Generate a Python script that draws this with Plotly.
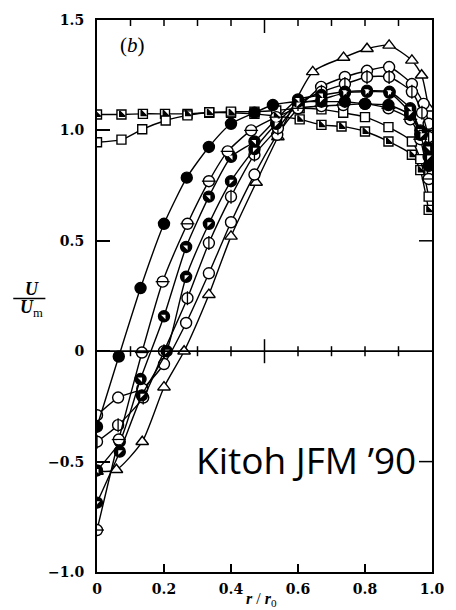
import plotly.graph_objects as go

# ---------------- data (r/r0, U/Um) ----------------
r_sq_half = [0, 0.073, 0.137, 0.203, 0.27, 0.335, 0.40, 0.47, 0.535, 0.605, 0.67, 0.73, 0.80, 0.87, 0.94, 0.965, 0.99]
u_sq_half = [1.072, 1.072, 1.075, 1.075, 1.075, 1.08, 1.08, 1.075, 1.065, 1.05, 1.025, 1.018, 0.995, 0.95, 0.89, 0.82, 0.64]

r_sq_open = [0, 0.073, 0.135, 0.205, 0.27, 0.335, 0.40, 0.47, 0.535, 0.605, 0.67, 0.735, 0.80, 0.87, 0.94, 0.965, 0.99]
u_sq_open = [0.946, 0.958, 1.005, 1.045, 1.068, 1.082, 1.085, 1.085, 1.09, 1.10, 1.095, 1.08, 1.06, 1.015, 0.95, 0.87, 0.70]

r_filled = [0, 0.065, 0.13, 0.2, 0.268, 0.334, 0.40, 0.47, 0.525, 0.6, 0.67, 0.74, 0.80, 0.87, 0.935, 0.965, 0.99]
u_filled = [-0.342, -0.024, 0.286, 0.577, 0.786, 0.925, 1.03, 1.08, 1.115, 1.13, 1.13, 1.13, 1.12, 1.115, 1.07, 0.98, 0.84]

r_hbar = [0, 0.065, 0.134, 0.196, 0.27, 0.334, 0.39, 0.46, 0.535, 0.6, 0.67, 0.735, 0.80, 0.87, 0.935, 0.965, 0.99]
u_hbar = [-0.81, -0.40, -0.006, 0.315, 0.577, 0.77, 0.905, 1.0, 1.06, 1.10, 1.11, 1.115, 1.12, 1.10, 1.05, 0.96, 0.78]

r_halfA = [0, 0.068, 0.13, 0.2, 0.266, 0.334, 0.40, 0.47, 0.535, 0.6, 0.67, 0.74, 0.806, 0.873, 0.935, 0.965, 0.99]
u_halfA = [-0.54, -0.41, -0.126, 0.158, 0.472, 0.70, 0.88, 0.95, 1.05, 1.14, 1.16, 1.175, 1.18, 1.175, 1.10, 1.0, 0.92]

r_halfB = [0, 0.068, 0.134, 0.208, 0.266, 0.334, 0.40, 0.47, 0.535, 0.6, 0.67, 0.74, 0.806, 0.873, 0.935, 0.97, 0.99]
u_halfB = [-0.686, -0.455, -0.20, 0.0, 0.337, 0.577, 0.77, 0.915, 1.03, 1.12, 1.14, 1.17, 1.175, 1.17, 1.08, 0.98, 0.88]

r_vbar = [0, 0.063, 0.138, 0.2, 0.27, 0.334, 0.40, 0.47, 0.54, 0.6, 0.67, 0.74, 0.806, 0.872, 0.94, 0.97, 0.99]
u_vbar = [-0.41, -0.335, -0.21, 0.0, 0.24, 0.49, 0.70, 0.89, 1.01, 1.12, 1.175, 1.21, 1.242, 1.242, 1.175, 1.08, 0.97]

r_open = [0, 0.063, 0.135, 0.2, 0.266, 0.334, 0.40, 0.47, 0.538, 0.6, 0.669, 0.74, 0.806, 0.872, 0.94, 0.975, 0.99]
u_open = [-0.29, -0.21, -0.17, -0.058, 0.128, 0.353, 0.584, 0.80, 0.98, 1.10, 1.197, 1.242, 1.27, 1.287, 1.21, 1.12, 1.03]

r_tri = [0, 0.058, 0.135, 0.2, 0.26, 0.334, 0.40, 0.475, 0.54, 0.644, 0.736, 0.806, 0.872, 0.94, 0.969, 0.99]
u_tri = [-0.545, -0.537, -0.41, -0.163, 0.0, 0.256, 0.52, 0.764, 0.97, 1.265, 1.33, 1.37, 1.385, 1.317, 1.25, 1.10]

x_tickvals = [0, 0.2, 0.4, 0.6, 0.8, 1.0]
x_ticktext = ["0", "0.2", "0.4", "0.6", "0.8", "1.0"]
y_tickvals = [-1.0, -0.5, 0, 0.5, 1.0, 1.5]
y_ticktext = ["\u22121.0", "\u22120.5", "0", "0.5", "1.0", "1.5"]
minor_x = [0.1, 0.2, 0.3, 0.4, 0.5, 0.6, 0.7, 0.8, 0.9]

# ---------------- figure ----------------
W, H = 456, 610
ML, MR, MT, MB = 97, 15, 14, 38
fig = go.Figure()

LW = 1.4
MS = 10

def series(r, u, symbol, fill, size=MS):
    fig.add_trace(go.Scatter(
        x=r, y=u, mode="lines+markers",
        line=dict(color="black", width=LW, shape="spline", smoothing=0.6),
        marker=dict(symbol=symbol, size=size, color=fill,
                    line=dict(color="black", width=1.4)),
        showlegend=False, hoverinfo="skip"))

series(r_sq_half, u_sq_half, "square", "white", 9)
series(r_sq_open, u_sq_open, "square", "white", 9)
series(r_tri, u_tri, "triangle-up", "white", 11)
series(r_open, u_open, "circle", "white", 11)
series(r_vbar, u_vbar, "circle", "white", 11)
series(r_halfB, u_halfB, "circle", "black", 11)
series(r_halfA, u_halfA, "circle", "black", 11)
series(r_hbar, u_hbar, "circle", "white", 11)
series(r_filled, u_filled, "circle", "black", 11)

def overlay(r, u, symbol, size, color="black", width=1.3):
    fig.add_trace(go.Scatter(
        x=r, y=u, mode="markers",
        marker=dict(symbol=symbol, size=size, color=color,
                    line=dict(color="black", width=width)),
        showlegend=False, hoverinfo="skip"))

overlay(r_sq_half, u_sq_half, "triangle-sw", 6)
overlay(r_vbar, u_vbar, "line-ns", 10)
overlay(r_hbar, u_hbar, "line-ew", 10)
overlay(r_halfA, u_halfA, "triangle-ne", 5, color="white", width=0)
overlay(r_halfB, u_halfB, "triangle-nw", 5, color="white", width=0)

axis_font = dict(family="DejaVu Serif", size=14, color="black", weight="bold")

fig.update_layout(
    width=W, height=H, autosize=False,
    margin=dict(l=ML, r=MR, t=MT, b=MB, pad=0),
    paper_bgcolor="white", plot_bgcolor="white",
    xaxis=dict(range=[0, 1.0], showgrid=False, zeroline=False,
               showline=True, linecolor="black", linewidth=2, mirror=True,
               ticks="inside", ticklen=8, tickwidth=1.5, tickcolor="black",
               tickvals=x_tickvals, ticktext=x_ticktext, tickfont=axis_font,
               ticklabelstandoff=3),
    yaxis=dict(range=[-1.0, 1.5], showgrid=False, zeroline=False,
               showline=True, linecolor="black", linewidth=2, mirror=True,
               ticks="inside", ticklen=13, tickwidth=1.5, tickcolor="black",
               tickvals=y_tickvals, ticktext=y_ticktext, tickfont=axis_font,
               ticklabelstandoff=8),
)

shapes = []
# zero line
shapes.append(dict(type="line", xref="x", yref="y", x0=0, x1=1.0, y0=0, y1=0,
                   line=dict(color="black", width=1.8)))
for xv in minor_x:
    half = 12 if abs(xv - 0.5) < 1e-9 else 5
    shapes.append(dict(type="line", xref="x", yref="y", ysizemode="pixel", yanchor=0,
                       x0=xv, x1=xv, y0=-half, y1=half,
                       line=dict(color="black", width=1.5)))
    ln = 13 if abs(xv - 0.5) < 1e-9 else 6
    shapes.append(dict(type="line", xref="x", yref="y", ysizemode="pixel", yanchor=1.5,
                       x0=xv, x1=xv, y0=0, y1=-ln,
                       line=dict(color="black", width=1.5)))
for yv in [-0.5, 0.5, 1.0]:
    shapes.append(dict(type="line", xref="x", yref="y", xsizemode="pixel", xanchor=1.0,
                       x0=-13, x1=0, y0=yv, y1=yv,
                       line=dict(color="black", width=1.5)))

def px2paper_x(px):
    return (px - ML) / (W - ML - MR)

def px2paper_y(py):
    return (H - MB - py) / (H - MT - MB)

# fraction bar for U/Um
shapes.append(dict(type="line", xref="paper", yref="paper",
                   x0=px2paper_x(11), x1=px2paper_x(44),
                   y0=px2paper_y(295.5), y1=px2paper_y(295.5),
                   line=dict(color="black", width=1.6)))
fig.update_layout(shapes=shapes)

serif = "Liberation Serif"
ann = [
    dict(text="(<i>b</i>)", xref="x", yref="y", x=0.105, y=1.386, showarrow=False,
         font=dict(family=serif, size=21, color="black"), xanchor="center", yanchor="middle"),
    dict(text="Kitoh JFM \u201990", xref="x", yref="y", x=0.29, y=-0.49, showarrow=False,
         font=dict(family="Open Sans", size=37, color="black"), xanchor="left", yanchor="middle"),
    dict(text="<b><i>U</i></b>", xref="paper", yref="paper", x=px2paper_x(30), y=px2paper_y(286),
         showarrow=False, font=dict(family=serif, size=18, color="black"),
         xanchor="center", yanchor="middle"),
    dict(text="<b><i>U</i></b><sub>m</sub>", xref="paper", yref="paper", x=px2paper_x(30),
         y=px2paper_y(306), showarrow=False, font=dict(family=serif, size=18, color="black"),
         xanchor="center", yanchor="middle"),
    dict(text="<b><i>r</i></b> / <b><i>r</i></b><sub>0</sub>", xref="paper", yref="paper", x=px2paper_x(266),
         y=px2paper_y(600), showarrow=False, font=dict(family=serif, size=16, color="black"),
         xanchor="center", yanchor="middle"),
]
fig.update_layout(annotations=ann)

fig.write_html("out.html")
